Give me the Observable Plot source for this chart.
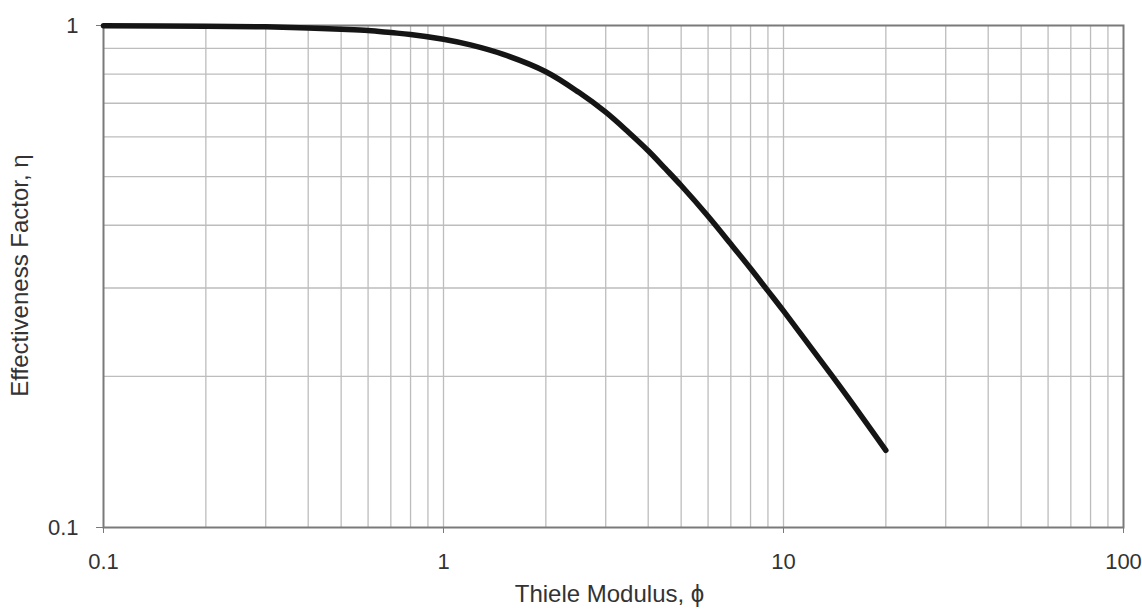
<!DOCTYPE html>
<html><head><meta charset="utf-8">
<script src="https://cdn.jsdelivr.net/npm/d3@7"></script>
<script src="https://cdn.jsdelivr.net/npm/@observablehq/plot@0.6"></script>
<style>body{margin:0;background:#fff;overflow:hidden;}</style>
</head><body><div id="chart"></div>
<script>
const phi = [0.1, 0.2, 0.3, 0.4, 0.5, 0.6, 0.7, 0.8, 1.0, 1.2, 1.5, 2.0, 2.5, 3.0, 3.5, 4.0, 4.5, 5.0, 6.0, 7.0, 8.0, 9.0, 10.0, 12.0, 15.0, 20.0];
const eta = [0.999, 0.997, 0.994, 0.989, 0.983, 0.977, 0.968, 0.960, 0.939, 0.915, 0.876, 0.809, 0.736, 0.672, 0.613, 0.563, 0.518, 0.480, 0.417, 0.367, 0.328, 0.296, 0.270, 0.229, 0.187, 0.1425];
const xTicks = [0.1, 1, 10, 100];
const xTickLabels = ["0.1", "1", "10", "100"];
const yTicks = [0.1, 1];
const yTickLabels = ["0.1", "1"];
const xGrid = [0.2, 0.3, 0.4, 0.5, 0.6, 0.7, 0.8, 0.9, 1, 2, 3, 4, 5, 6, 7, 8, 9, 10, 20, 30, 40, 50, 60, 70, 80, 90];
const yGrid = [0.2, 0.3, 0.4, 0.5, 0.6, 0.7, 0.8, 0.9];
const xTitle = "Thiele Modulus, ϕ";
const yTitle = "Effectiveness Factor, η";

const data = phi.map((p, i) => ({phi: p, eta: eta[i]}));

const chart = Plot.plot({
  width: 1142, height: 614,
  marginTop: 25, marginBottom: 87, marginLeft: 103, marginRight: 19,
  style: {fontFamily: "'Liberation Sans', Arial, sans-serif", fontSize: "22px", background: "#fff", color: "#333", overflow: "visible"},
  x: {type: "log", domain: [0.1, 100]},
  y: {type: "log", domain: [0.1, 1]},
  marks: [
    Plot.ruleX(xGrid, {stroke: "#bdbdbd", strokeWidth: 1.3}),
    Plot.ruleY(yGrid, {stroke: "#bdbdbd", strokeWidth: 1.3}),
    Plot.frame({stroke: "#7a7a7a", strokeWidth: 2}),
    Plot.axisX(xTicks, {tickFormat: d => xTickLabels[xTicks.indexOf(d)], tickSize: 6, tickPadding: 20, label: null, stroke: "#7a7a7a", fill: "#333", fontSize: 22}),
    Plot.axisY(yTicks, {tickFormat: d => yTickLabels[yTicks.indexOf(d)], tickSize: 7, tickPadding: 18, label: null, stroke: "#7a7a7a", fill: "#333", fontSize: 22}),
    Plot.line(data, {x: "phi", y: "eta", stroke: "#151515", strokeWidth: 5.5, strokeLinecap: "round", strokeLinejoin: "round", curve: "catmull-rom"}),
    Plot.text([xTitle], {frameAnchor: "bottom", dy: 74, fontSize: 24, fill: "#333", dx: -4}),
    Plot.text([yTitle], {frameAnchor: "left", textAnchor: "middle", dx: -83, dy: -1, rotate: -90, fontSize: 24, fill: "#333", style: {letterSpacing: "0.9px"}})
  ]
});
document.getElementById("chart").append(chart);
</script>
</body></html>
